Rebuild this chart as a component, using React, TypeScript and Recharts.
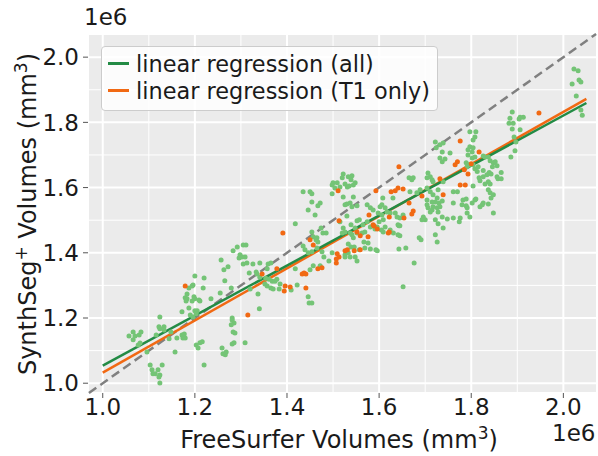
import React from 'react';
import { ComposedChart, Scatter, XAxis, YAxis, CartesianGrid, ReferenceLine, Label } from 'recharts';

// volumes in units of 1e6 mm³ (FreeSurfer, SynthSeg+)
const xTicks = [1.0, 1.2, 1.4, 1.6, 1.8, 2.0];
const yTicks = [1.0, 1.2, 1.4, 1.6, 1.8, 2.0];
const minorTicks = [1.1, 1.3, 1.5, 1.7, 1.9];
const xDomain = [0.968, 2.073];
const yDomain = [0.97, 2.071];

const fitAll = { intercept: 0.287, slope: 0.767 };
const fitT1 = { intercept: 0.233, slope: 0.7995 };
const fitRange = [1.0, 2.05];
const identityRange = [0.97, 2.071];

const allScans: [number, number][] = [
  [1.057,1.145],[1.066,1.157],[1.070,1.145],[1.079,1.148],[1.083,1.157],[1.066,1.133],[1.077,1.117],[1.081,1.123],[1.096,1.096],[1.116,1.148],
  [1.122,1.173],[1.124,1.167],[1.133,1.173],[1.133,1.163],[1.124,1.203],[1.103,1.056],[1.109,1.029],[1.114,1.029],[1.120,1.041],[1.124,1.025],
  [1.129,1.056],[1.122,1.019],[1.107,1.041],[1.124,1.001],[1.148,1.157],[1.144,1.136],[1.161,1.139],[1.172,1.148],[1.174,1.139],[1.177,1.151],
  [1.179,1.139],[1.157,1.096],[1.172,1.219],[1.187,1.231],[1.190,1.209],[1.196,1.203],[1.200,1.222],[1.205,1.222],[1.194,1.252],[1.198,1.265],
  [1.200,1.259],[1.209,1.255],[1.235,1.259],[1.179,1.262],[1.183,1.259],[1.181,1.252],[1.183,1.274],[1.187,1.292],[1.196,1.301],[1.218,1.292],
  [1.200,1.329],[1.220,1.323],[1.265,1.314],[1.255,1.277],[1.203,1.117],[1.207,1.108],[1.211,1.124],[1.216,1.127],[1.220,1.056],[1.259,1.108],
  [1.261,1.090],[1.266,1.087],[1.268,1.096],[1.281,1.200],[1.285,1.185],[1.279,1.179],[1.283,1.157],[1.287,1.154],[1.281,1.120],[1.285,1.124],
  [1.309,1.124],[1.281,1.194],[1.203,1.213],[1.211,1.252],[1.194,1.298],
  [1.418,1.489],[1.305,1.424],[1.311,1.424],[1.292,1.418],[1.283,1.406],[1.298,1.394],[1.302,1.387],[1.296,1.384],[1.309,1.387],[1.305,1.366],
  [1.313,1.369],[1.257,1.378],[1.272,1.357],[1.263,1.348],[1.326,1.366],[1.341,1.369],[1.359,1.366],[1.365,1.369],[1.357,1.351],[1.318,1.338],
  [1.333,1.341],[1.335,1.335],[1.341,1.325],[1.354,1.322],[1.361,1.319],[1.368,1.313],[1.374,1.313],[1.378,1.319],[1.418,1.351],[1.352,1.304],
  [1.357,1.298],[1.365,1.292],[1.370,1.289],[1.385,1.304],[1.383,1.289],[1.409,1.286],[1.422,1.301],[1.446,1.265],[1.279,1.292],[1.320,1.289],
  [1.337,1.274],[1.340,1.228],[1.448,1.246],[1.454,1.246],[1.652,1.296],[1.676,1.369],[1.643,1.412],[1.658,1.415],
  [1.522,1.642],[1.533,1.633],[1.541,1.636],[1.520,1.630],[1.539,1.624],[1.548,1.615],[1.544,1.608],[1.531,1.602],[1.535,1.605],[1.526,1.611],
  [1.498,1.608],[1.500,1.615],[1.509,1.615],[1.504,1.599],[1.515,1.602],[1.498,1.581],[1.522,1.571],[1.544,1.571],[1.435,1.587],[1.450,1.587],
  [1.454,1.581],[1.454,1.556],[1.472,1.553],[1.467,1.544],[1.446,1.531],[1.461,1.516],[1.530,1.550],[1.537,1.553],[1.541,1.541],[1.552,1.544],
  [1.630,1.568],[1.574,1.547],[1.581,1.538],[1.587,1.531],[1.602,1.541],[1.613,1.538],[1.598,1.522],[1.606,1.516],[1.617,1.525],[1.624,1.522],
  [1.635,1.522],[1.530,1.513],[1.539,1.486],[1.552,1.498],[1.600,1.495],[1.609,1.501],[1.596,1.479],[1.605,1.470],[1.609,1.464],[1.624,1.470],
  [1.613,1.479],[1.641,1.486],[1.454,1.464],[1.474,1.476],[1.478,1.461],[1.485,1.461],[1.457,1.449],[1.465,1.446],[1.467,1.433],[1.463,1.440],
  [1.541,1.455],[1.544,1.446],[1.569,1.464],[1.567,1.433],[1.576,1.430],[1.581,1.412],[1.593,1.409],[1.569,1.415],[1.533,1.427],[1.454,1.403],
  [1.435,1.421],[1.439,1.409],[1.446,1.400],[1.465,1.415],[1.476,1.403],[1.480,1.387],[1.491,1.375],[1.526,1.394],[1.537,1.387],[1.548,1.387],
  [1.498,1.400],[1.552,1.375],[1.472,1.360],[1.457,1.360],[1.450,1.348],[1.515,1.495],[1.522,1.476],[1.526,1.464],[1.520,1.461],[1.557,1.501],
  [1.565,1.486],[1.574,1.495],[1.581,1.479],[1.552,1.461],[1.563,1.461],[1.537,1.461],[1.548,1.476],[1.596,1.406],[1.557,1.409],[1.546,1.418],
  [1.539,1.418],[1.533,1.400],[1.526,1.387],[1.526,1.547],[1.606,1.547],
  [1.797,1.771],[1.810,1.771],[1.808,1.755],[1.804,1.746],[1.722,1.740],[1.732,1.731],[1.739,1.737],[1.724,1.722],[1.737,1.709],[1.754,1.706],
  [1.797,1.725],[1.793,1.716],[1.802,1.709],[1.804,1.722],[1.793,1.700],[1.802,1.691],[1.808,1.694],[1.830,1.694],[1.837,1.694],[1.732,1.691],
  [1.737,1.679],[1.743,1.688],[1.789,1.676],[1.791,1.664],[1.795,1.670],[1.804,1.670],[1.808,1.658],[1.815,1.664],[1.813,1.649],[1.826,1.652],
  [1.834,1.639],[1.826,1.633],[1.819,1.621],[1.817,1.630],[1.837,1.618],[1.830,1.611],[1.706,1.645],[1.711,1.633],[1.704,1.630],[1.715,1.624],
  [1.717,1.618],[1.739,1.618],[1.665,1.630],[1.671,1.624],[1.674,1.630],[1.667,1.587],[1.682,1.584],[1.689,1.593],[1.704,1.599],[1.711,1.587],
  [1.728,1.593],[1.717,1.578],[1.761,1.587],[1.770,1.587],[1.726,1.568],[1.722,1.556],[1.730,1.553],[1.715,1.556],[1.717,1.541],[1.706,1.538],
  [1.715,1.531],[1.704,1.547],[1.726,1.538],[1.711,1.525],[1.728,1.525],[1.732,1.541],[1.608,1.568],[1.761,1.553],[1.782,1.562],[1.789,1.544],
  [1.791,1.538],[1.808,1.562],[1.802,1.553],[1.819,1.541],[1.826,1.553],[1.652,1.516],[1.645,1.507],[1.639,1.510],[1.696,1.510],[1.700,1.501],
  [1.722,1.501],[1.737,1.510],[1.748,1.504],[1.761,1.507],[1.776,1.507],[1.791,1.522],[1.797,1.510],[1.591,1.473],[1.645,1.483],[1.631,1.461],
  [1.645,1.452],[1.687,1.446],[1.722,1.455],[1.726,1.433],[1.691,1.440],[1.643,1.483],[1.641,1.455],[1.774,1.495],[1.693,1.501],[1.739,1.476],
  [1.728,1.489],[1.848,1.522],[1.837,1.550],[1.780,1.547],[1.704,1.562],[1.737,1.559],
  [2.019,1.918],[2.028,1.881],[2.023,1.964],[2.032,1.958],[2.034,1.930],[2.038,1.924],[2.038,1.838],[2.041,1.822],[1.889,1.832],[1.884,1.813],
  [1.882,1.797],[1.891,1.797],[1.904,1.810],[1.906,1.816],[1.913,1.816],[1.889,1.780],[1.906,1.777],[1.893,1.755],[1.897,1.740],[1.895,1.713],
  [1.886,1.694],[1.841,1.682],[1.848,1.676],[1.852,1.679],[1.846,1.664],[1.856,1.667],[1.826,1.697],[1.839,1.646],[1.843,1.642],[1.865,1.646],
  [1.856,1.633],[1.858,1.627],[1.865,1.627],[1.804,1.605],[1.841,1.611],[1.837,1.593],[1.843,1.568],[1.789,1.565],[1.810,1.565],[1.841,1.584],
  [1.848,1.578],[1.824,1.547],
];

const t1Scans: [number, number][] = [
  [1.179,1.298],[1.391,1.461],[1.378,1.351],[1.346,1.335],[1.433,1.335],[1.441,1.335],[1.396,1.298],[1.407,1.295],[1.394,1.283],[1.441,1.292],
  [1.315,1.209],[1.511,1.590],[1.593,1.590],[1.626,1.587],[1.635,1.590],[1.578,1.516],[1.513,1.498],[1.587,1.486],[1.596,1.473],[1.622,1.510],
  [1.622,1.464],[1.450,1.440],[1.552,1.464],[1.559,1.452],[1.576,1.449],[1.531,1.409],[1.546,1.406],[1.559,1.409],[1.457,1.424],[1.509,1.397],
  [1.513,1.387],[1.507,1.381],[1.476,1.354],[1.467,1.351],[1.437,1.338],[1.776,1.743],[1.817,1.709],[1.770,1.679],[1.765,1.670],[1.643,1.664],
  [1.785,1.655],[1.793,1.642],[1.732,1.627],[1.641,1.599],[1.652,1.596],[1.776,1.608],[1.787,1.608],[1.739,1.578],[1.693,1.574],[1.665,1.553],
  [1.674,1.528],[1.671,1.519],[1.654,1.507],[1.589,1.482],[1.620,1.461],[1.947,1.829],[1.526,1.406],[1.507,1.369],[1.800,1.673],
];

const GREEN_PT = '#74c476';
const GREEN_LINE = '#238b45';
const ORANGE = '#f16913';
const FONT = 'DejaVu Sans, sans-serif';
const INK = '#1a1a1a';

const toPoints = (arr: [number, number][]) => arr.map(([x, y]) => ({ x, y }));
const fitSegment = (f: { intercept: number; slope: number }) =>
  fitRange.map((x) => ({ x, y: f.intercept + f.slope * x }));

const dot = (color: string) => (props: any) => (
  <circle cx={props.cx} cy={props.cy} r={2.5} fill={color} />
);

const tickStyle = { fontSize: 23, fill: INK, fontFamily: FONT };

const XTitle = () => (
  <text x={339} y={448} textAnchor="middle" fontSize={24} fontFamily={FONT} fill={INK}>
    FreeSurfer Volumes (mm<tspan dy={-9} fontSize={17}>3</tspan><tspan dy={9}>)</tspan>
  </text>
);

const YTitle = () => (
  <text x={0} y={0} transform="translate(36,214) rotate(-90)" textAnchor="middle" fontSize={24} fontFamily={FONT} fill={INK}>
    SynthSeg<tspan dy={-9} fontSize={17}>+</tspan><tspan dy={9}> Volumes (mm</tspan><tspan dy={-9} fontSize={17}>3</tspan><tspan dy={9}>)</tspan>
  </text>
);

export default function App() {
  return (
    <div style={{ position: 'absolute', left: 0, top: 0, width: 598, height: 456, background: '#fff', fontFamily: FONT }}>
      <ComposedChart width={598} height={456} margin={{ top: 34, right: 1, bottom: 0, left: 0 }}>
        <CartesianGrid stroke="#fff" strokeWidth={2} fill="#ebebeb" fillOpacity={1} />
        {minorTicks.map((v) => (
          <ReferenceLine key={'mx' + v} x={v} stroke="#fff" strokeWidth={1} />
        ))}
        {minorTicks.map((v) => (
          <ReferenceLine key={'my' + v} y={v} stroke="#fff" strokeWidth={1} />
        ))}
        <XAxis
          type="number"
          dataKey="x"
          domain={xDomain}
          ticks={xTicks}
          allowDataOverflow
          tickFormatter={(v: number) => v.toFixed(1)}
          height={63}
          axisLine={false}
          tickSize={5}
          tickMargin={1}
          tickLine={{ stroke: '#555' }}
          tick={tickStyle}
        >
          <Label content={XTitle} />
        </XAxis>
        <YAxis
          type="number"
          dataKey="y"
          domain={yDomain}
          ticks={yTicks}
          allowDataOverflow
          tickFormatter={(v: number) => v.toFixed(1)}
          width={88}
          axisLine={false}
          tickSize={5}
          tickMargin={4}
          tickLine={{ stroke: '#555' }}
          tick={tickStyle}
        >
          <Label content={YTitle} />
        </YAxis>
        <Scatter data={toPoints(allScans)} shape={dot(GREEN_PT)} isAnimationActive={false} />
        <Scatter data={toPoints(t1Scans)} shape={dot(ORANGE)} isAnimationActive={false} />
        <ReferenceLine
          segment={identityRange.map((v) => ({ x: v, y: v }))}
          stroke="#808080"
          strokeWidth={2.5}
          strokeDasharray="9 5"
        />
        <ReferenceLine segment={fitSegment(fitT1)} stroke={ORANGE} strokeWidth={2.5} />
        <ReferenceLine segment={fitSegment(fitAll)} stroke={GREEN_LINE} strokeWidth={2.5} />
      </ComposedChart>

      <div style={{ position: 'absolute', left: 84, top: 4, fontSize: 23, color: INK }}>1e6</div>
      <div style={{ position: 'absolute', left: 552, top: 420, fontSize: 23, color: INK }}>1e6</div>

      <div
        style={{
          position: 'absolute',
          left: 101,
          top: 46,
          width: 337,
          height: 65,
          boxSizing: 'border-box',
          border: '1px solid #cccccc',
          borderRadius: 4,
          background: 'rgba(255,255,255,0.85)',
          fontSize: 22.4,
          color: INK,
        }}
      >
        {[
          { color: GREEN_LINE, text: 'linear regression (all)' },
          { color: ORANGE, text: 'linear regression (T1 only)' },
        ].map((item, i) => (
          <div key={i} style={{ position: 'absolute', left: 6, top: 3 + i * 27, height: 27, display: 'flex', alignItems: 'center', whiteSpace: 'nowrap' }}>
            <span style={{ display: 'inline-block', width: 21, height: 2.5, background: item.color, marginRight: 7 }} />
            <span>{item.text}</span>
          </div>
        ))}
      </div>
    </div>
  );
}
